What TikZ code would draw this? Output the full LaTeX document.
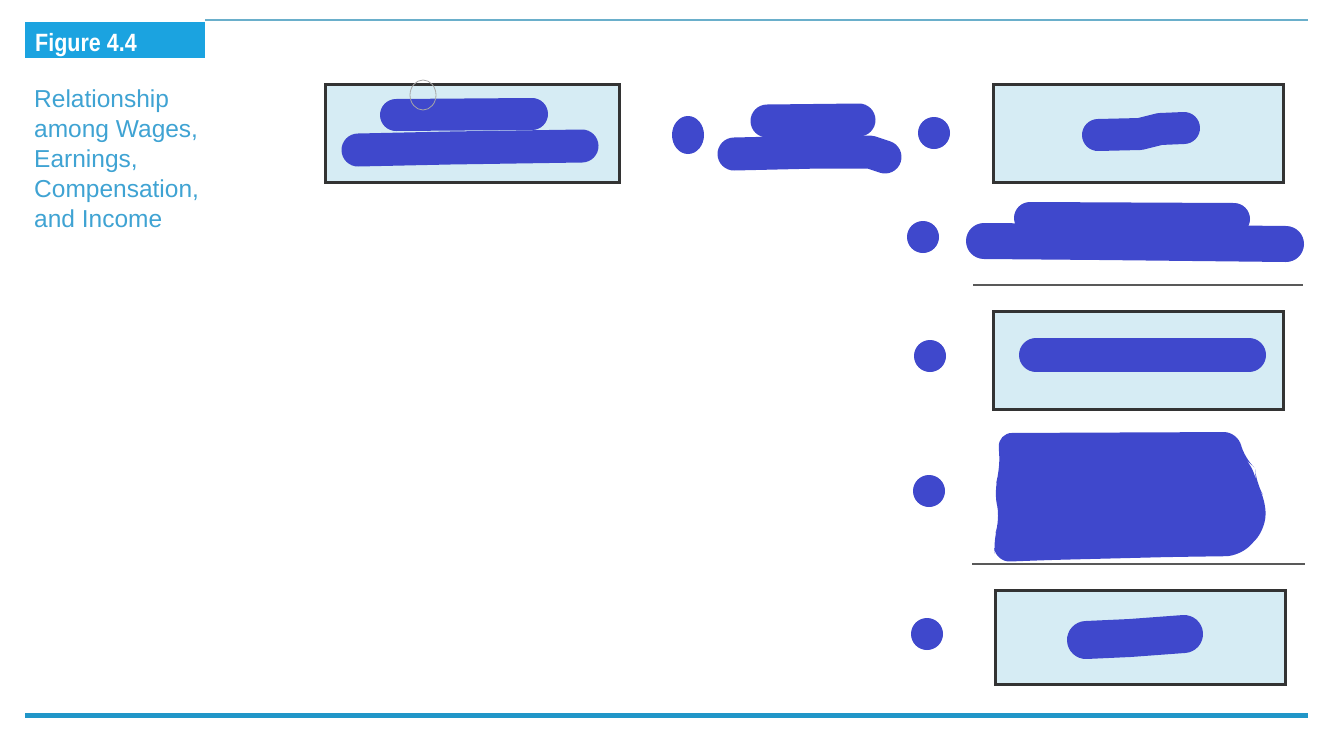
\documentclass[tikz,border=0pt]{standalone}
\usepackage{fontspec}
\setmainfont{Liberation Sans}
\newfontfamily\figfont[FakeStretch=0.86]{Liberation Sans}
\begin{document}
\begin{tikzpicture}[x=1pt,y=-1pt,
  panel/.style={draw=black!80,line width=3pt,fill=panelfill},
  blob/.style={draw=blobblue,line cap=round,line join=round},
  dot/.style={fill=blobblue},
  rule/.style={draw=black!65,line width=2.8pt}]
\definecolor{panelfill}{HTML}{D6ECF4}
\definecolor{blobblue}{HTML}{3F48CC}
\definecolor{figcyan}{HTML}{1BA3E0}
\definecolor{captblue}{HTML}{3FA3D3}
\definecolor{toprule}{HTML}{6AAFCB}
\definecolor{botrule}{HTML}{2196C8}
\useasboundingbox (0,0) rectangle (1334,753);
\fill[white] (0,0) rectangle (1334,753);
% header
\draw[toprule,line width=2.2pt] (205,20) -- (1308,20);
\fill[figcyan] (25,22) rectangle (205,58);
\node[anchor=base west,text=white,font=\figfont\fontsize{25}{27}\selectfont\bfseries,inner sep=0pt] (figlabel) at (35,51) {Figure 4.4};
\node[anchor=north west,text=captblue,align=left,inner sep=0pt,
  font=\fontsize{24.5}{30}\selectfont] (caption) at (34,90)
  {Relationship\\among Wages,\\Earnings,\\Compensation,\\and Income};
% panels
\draw[panel] (325,84) rectangle (619,182);
\draw[panel] (993,84) rectangle (1283,182);
\draw[panel] (993,311) rectangle (1283,409);
\draw[panel] (995,590) rectangle (1285,684);
% rules
\draw[rule] (973,285) -- (1303,285);
\draw[rule] (972,564) -- (1305,564);
\draw[botrule,line width=5pt] (25,715) -- (1308,715);
% blobs
\draw[blob,line width=32pt] (396,115) -- (532,114);
\draw[blob,line width=33pt] (358,150) -- (450,148) -- (582,146);
\fill[dot] (688,135) ellipse [x radius=16,y radius=19];
\draw[blob,line width=33pt] (767,121) -- (859,120);
\draw[blob,line width=33pt] (734,154) -- (820,152) -- (870,152) -- (885,157);
\fill[dot] (934,133) circle (16);
\draw[blob,line width=32pt] (1098,135) -- (1140,134) -- (1160,129) -- (1184,128);
\fill[dot] (923,237) circle (16);
\draw[blob,line width=32pt] (1030,218) -- (1234,219);
\draw[blob,line width=36pt] (984,241) -- (1100,242) -- (1286,244);
\fill[dot] (930,356) circle (16);
\draw[blob,line width=34pt] (1036,355) -- (1150,355) -- (1249,355);
\fill[dot] (929,491) circle (16);
\fill[blobblue,rounded corners=14pt] (998,433) -- (1238,432) -- (1244,458) -- (1255,468) -- (1256,483) -- (1266,500) -- (1265,530) -- (1240,556) -- (1170,557) -- (1050,560) -- (996,562) -- (993,540) -- (1000,520) -- (994,490) -- (1000,470) -- cycle;
\fill[dot] (927,634) circle (16);
\draw[blob,line width=38pt] (1086,640) -- (1130,638) -- (1184,634);
% cursor artifact
\draw[black!35,line width=0.8pt] (423,95) ellipse [x radius=13,y radius=15];
\end{tikzpicture}
\end{document}
